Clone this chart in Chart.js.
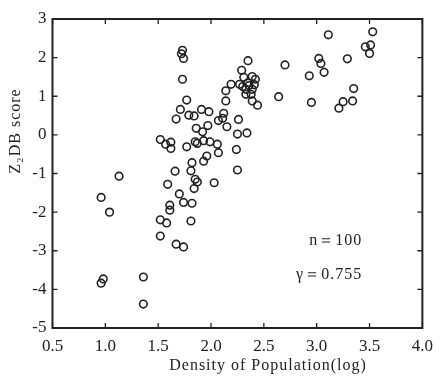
<!DOCTYPE html>
<html>
<head>
<meta charset="utf-8">
<script src="https://cdn.jsdelivr.net/npm/chart.js@4/dist/chart.umd.min.js"></script>
<style>
  html, body { margin: 0; padding: 0; background: #fff; }
  canvas { display: block; }
</style>
</head>
<body>
<canvas id="c" width="441" height="377"></canvas>
<script>
// Z2DB score vs density of population (log), 100 districts.
// Values.

const densityLog = [
  1.13, 0.96, 1.04, 0.98, 0.96, 1.36, 1.36,
  1.52, 1.58, 1.52, 1.67, 1.74, 1.61, 1.61, 1.59, 1.70, 1.74, 1.82, 1.81, 1.66,
  1.73, 1.72, 1.74, 1.73, 1.77, 1.71, 1.67,
  1.79, 1.84, 1.91, 1.98, 1.52, 1.57, 1.62, 1.62, 1.77, 1.86, 1.97, 1.92,
  1.85, 1.87, 1.93, 1.99, 2.06, 2.07, 1.96, 1.93, 1.82, 1.81, 1.85, 1.87,
  1.84, 2.03, 2.24, 2.25, 2.25, 2.34, 2.26, 2.07, 2.11, 2.15, 2.12,
  2.35, 2.29, 2.31, 2.39, 2.42, 2.19, 2.27, 2.35, 2.14, 2.33, 2.39, 2.33,
  2.38, 2.14, 2.39, 2.44, 2.64, 2.70, 2.30, 2.36, 2.41,
  3.11, 3.53, 3.46, 3.51, 3.50, 3.02, 3.04, 3.29, 2.93, 3.07, 3.35, 2.95,
  3.25, 3.21, 3.34,
];

const z2dbScore = [
  -1.07, -1.62, -2.00, -3.73, -3.84, -3.68, -4.38,
  -2.20, -2.28, -2.62, -2.83, -2.90, -1.82, -1.95, -1.28, -1.53, -1.75, -1.77, -2.23, -0.94,
  2.19, 2.10, 1.98, 1.44, 0.90, 0.66, 0.41,
  0.51, 0.49, 0.66, 0.60, -0.12, -0.24, -0.19, -0.35, -0.31, 0.17, 0.24, 0.08,
  -0.18, -0.22, -0.15, -0.18, -0.24, -0.46, -0.55, -0.68, -0.72, -0.93, -1.15, -1.22,
  -1.39, -1.24, -0.38, -0.91, 0.02, 0.05, 0.40, 0.37, 0.43, 0.21, 0.56,
  1.92, 1.67, 1.49, 1.51, 1.44, 1.31, 1.31, 1.35, 1.14, 1.18, 1.18, 1.05,
  1.05, 0.88, 0.88, 0.77, 0.99, 1.81, 1.25, 1.28, 1.30,
  2.59, 2.67, 2.28, 2.33, 2.11, 1.98, 1.85, 1.97, 1.53, 1.62, 1.20, 0.84,
  0.86, 0.69, 0.88,
];

const xTickValues = [0.5, 1.0, 1.5, 2.0, 2.5, 3.0, 3.5, 4.0];
const yTickValues = [-5, -4, -3, -2, -1, 0, 1, 2, 3];

const xTitle = "Density of Population(log)";
const yTitle = "Z₂DB score";
const statLines = ["n＝100", "γ＝0.755"];

const SERIF = "'Liberation Serif', 'DejaVu Serif', serif";
const INK = "#222";

const points = densityLog.map((x, i) => ({ x, y: z2dbScore[i] }));

// inward ticks on all four sides, the frame, titles and the n / r note
const framePlugin = {
  id: "frame",
  afterDraw(chart) {
    const { ctx, chartArea: a, scales } = chart;
    const xs = scales.x, ys = scales.y;
    const len = 5;
    ctx.save();
    ctx.strokeStyle = INK;
    ctx.lineWidth = 1.3;
    ctx.beginPath();
    xTickValues.forEach((v) => {
      const px = xs.getPixelForValue(v);
      ctx.moveTo(px, a.bottom); ctx.lineTo(px, a.bottom - len);
      ctx.moveTo(px, a.top);    ctx.lineTo(px, a.top + len);
    });
    yTickValues.forEach((v) => {
      const py = ys.getPixelForValue(v);
      ctx.moveTo(a.left, py);  ctx.lineTo(a.left + len, py);
      ctx.moveTo(a.right, py); ctx.lineTo(a.right - len, py);
    });
    ctx.stroke();

    ctx.lineWidth = 2;
    ctx.strokeRect(a.left, a.top, a.right - a.left, a.bottom - a.top);

    ctx.fillStyle = INK;
    ctx.font = "16px " + SERIF;
    ctx.letterSpacing = "1px";
    ctx.textBaseline = "middle";

    ctx.textAlign = "center";
    ctx.fillText(xTitle, 268, 366);

    ctx.save();
    ctx.translate(16, 131);
    ctx.rotate(-Math.PI / 2);
    ctx.fillText(yTitle, 0, 0);
    ctx.restore();

    ctx.textAlign = "right";
    const nx = xs.getPixelForValue(3.43);
    ctx.fillText(statLines[0], nx, ys.getPixelForValue(-2.73));
    ctx.fillText(statLines[1], nx, ys.getPixelForValue(-3.61));
    ctx.restore();
  },
};

new Chart(document.getElementById("c").getContext("2d"), {
  type: "scatter",
  data: {
    datasets: [{
      data: points,
      pointStyle: "circle",
      pointRadius: 3.8,
      pointHoverRadius: 3.8,
      borderWidth: 1.6,
      borderColor: INK,
      backgroundColor: "rgba(0,0,0,0)",
    }],
  },
  options: {
    responsive: false,
    animation: false,
    layout: { padding: { top: 19, right: 14, left: 0, bottom: 0 } },
    plugins: { legend: { display: false }, tooltip: { enabled: false } },
    scales: {
      x: {
        type: "linear",
        min: 0.5,
        max: 4.0,
        afterBuildTicks: (s) => { s.ticks = xTickValues.map((v) => ({ value: v })); },
        afterFit: (s) => { s.height = 49; },
        grid: { display: false, drawTicks: false },
        border: { display: false },
        ticks: {
          autoSkip: false,
          maxRotation: 0,
          padding: 8,
          color: INK,
          font: { family: SERIF, size: 17 },
          callback: (v) => Number(v).toFixed(1),
        },
      },
      y: {
        type: "linear",
        min: -5,
        max: 3,
        afterBuildTicks: (s) => { s.ticks = yTickValues.map((v) => ({ value: v })); },
        afterFit: (s) => { s.width = 52.5; },
        grid: { display: false, drawTicks: false },
        border: { display: false },
        ticks: {
          autoSkip: false,
          padding: 6,
          color: INK,
          font: { family: SERIF, size: 17 },
          callback: (v) => String(v),
        },
      },
    },
  },
  plugins: [framePlugin],
});
</script>
</body>
</html>
